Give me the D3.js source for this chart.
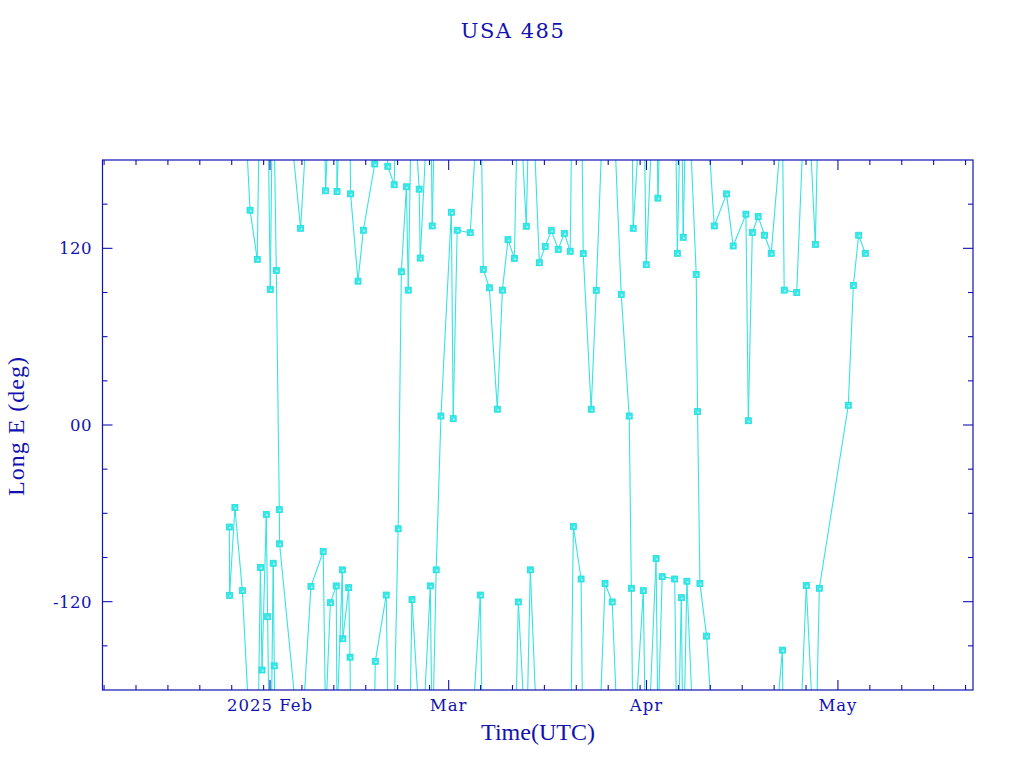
<!DOCTYPE html>
<html><head><meta charset="utf-8">
<script src="https://cdn.jsdelivr.net/npm/d3@7"></script>
<style>html,body{margin:0;padding:0;background:#fff;}svg{display:block;}</style>
</head><body>
<script>
// ---- data ----
const title = "USA 485";
const xLabel = "Time(UTC)";
const yLabel = "Long E (deg)";
const timeDomain = ["2025-01-05T18:00", "2025-05-22T04:00"];
const lonDomain = [-180, 180];
const yTickValues = [-150, -120, -90, -60, -30, 0, 30, 60, 90, 120, 150];
const yMajorTicks = [-120, 0, 120];
const yTickLabels = ["-120", "00", "120"];
const monthLabels = ["Jan", "Feb", "Mar", "Apr", "May"];
const times = [
 "2025-01-25T15:00","2025-01-25T16:00","2025-01-26T12:00","2025-01-27T16:00","2025-01-28T21:00",
 "2025-01-30T00:00","2025-01-30T12:00","2025-01-30T18:00","2025-01-31T10:00","2025-01-31T15:00",
 "2025-02-01T01:00","2025-02-01T12:00","2025-02-01T16:00","2025-02-01T23:40","2025-02-02T11:00",
 "2025-02-02T12:00","2025-02-05T19:00","2025-02-07T10:00","2025-02-09T08:00","2025-02-09T17:00",
 "2025-02-10T11:00","2025-02-11T09:00","2025-02-11T12:00","2025-02-12T08:00","2025-02-12T10:00",
 "2025-02-13T08:00","2025-02-13T13:00","2025-02-13T15:00","2025-02-14T19:00","2025-02-15T15:00",
 "2025-02-17T10:00","2025-02-17T12:00","2025-02-19T05:00","2025-02-19T11:00","2025-02-20T11:00",
 "2025-02-21T02:00","2025-02-21T14:00","2025-02-22T09:00","2025-02-22T16:00","2025-02-23T06:00",
 "2025-02-24T09:00","2025-02-24T13:00","2025-02-26T03:00","2025-02-26T10:00","2025-02-27T01:00",
 "2025-02-27T19:00","2025-03-01T10:00","2025-03-01T17:00","2025-03-02T08:00","2025-03-04T09:00",
 "2025-03-05T23:00","2025-03-06T10:00","2025-03-07T09:00","2025-03-08T15:00","2025-03-09T10:00",
 "2025-03-10T07:00","2025-03-11T07:00","2025-03-11T22:00","2025-03-13T04:00","2025-03-13T19:00",
 "2025-03-15T05:00","2025-03-16T03:00","2025-03-17T02:00","2025-03-18T04:00","2025-03-19T03:00",
 "2025-03-20T01:00","2025-03-20T13:00","2025-03-21T18:00","2025-03-22T02:00","2025-03-23T08:00",
 "2025-03-24T03:00","2025-03-25T12:00","2025-03-26T15:00","2025-03-28T01:00","2025-03-29T07:00",
 "2025-03-29T15:00","2025-03-29T22:00","2025-03-31T12:00","2025-03-31T23:00","2025-04-02T12:00",
 "2025-04-02T19:00","2025-04-03T11:00","2025-04-05T10:00","2025-04-05T20:00","2025-04-06T11:00",
 "2025-04-06T18:00","2025-04-07T08:00","2025-04-08T19:00","2025-04-09T00:00","2025-04-09T09:00",
 "2025-04-10T10:00","2025-04-11T15:00","2025-04-13T13:00","2025-04-14T14:00","2025-04-16T14:00",
 "2025-04-16T23:00","2025-04-17T14:00","2025-04-18T12:00","2025-04-19T12:00","2025-04-20T13:00",
 "2025-04-22T07:00","2025-04-22T14:00","2025-04-24T13:00","2025-04-26T01:00","2025-04-27T11:00",
 "2025-04-28T02:00","2025-05-02T15:00","2025-05-03T10:00","2025-05-04T06:00","2025-05-05T07:00"
];
const longitudes = [
 -69.3,-115.7,-56.1,-112.5,145.9, 112.5,-96.8,-166.4,-60.7,-130.2,
 92.0,-93.9,-163.6,105.0,-57.5, -80.7,133.6,-109.6,-85.9,159.1,
 -120.7,-109.3,158.6,-98.4,-145.2, -110.5,-157.7,157.0,97.7,132.3,
 177.3,-160.5,-115.5,175.7,163.2, -70.5,104.1,161.8,91.6,-118.6,
 160.2,113.4,-109.3,135.2,-98.4, 6.1,144.5,4.3,132.3,130.6,
 -115.5,105.7,93.2,10.7,91.6, 125.9,113.2,-120.2,135.0,-98.4,
 110.2,121.2,132.0,119.3,130.2, 118.0,-68.9,-104.6,116.4,10.7,
 91.5,-107.7,-120.2,88.6,6.1, -110.9,133.6,-112.5,108.9,-90.7,
 154.1,-103.0,-104.6,116.6,-117.3, 127.5,-106.1,102.3,9.1,-107.7,
 -143.4,135.2,157.0,121.6,143.2, 2.9,130.7,141.6,128.9,116.6,
 -152.9,91.6,90.0,-109.1,122.7, -110.9,13.4,94.8,128.9,116.6
];

// ---- chart ----
const W = 1024, H = 768;
const M = {left: 102.5, right: 973, top: 160, bottom: 690};
const axisColor = "#1212b0", lineColor = "#3ae2e2";
const tickFont = "'DejaVu Serif', serif";
const parse = d3.utcParse("%Y-%m-%dT%H:%M");
const data = times.map((t, i) => ({t: parse(t), lon: longitudes[i]}));

const x = d3.scaleUtc().domain(timeDomain.map(parse)).range([M.left, M.right]);
const y = d3.scaleLinear().domain(lonDomain).range([M.bottom, M.top]);

const svg = d3.select("body").append("svg").attr("width", W).attr("height", H)
  .style("font-family", "'Liberation Serif', serif");

svg.append("defs").append("clipPath").attr("id", "clip")
  .append("rect").attr("x", M.left).attr("y", M.top)
  .attr("width", M.right - M.left).attr("height", M.bottom - M.top);

const plot = svg.append("g").attr("clip-path", "url(#clip)");
const line = d3.line().x(d => x(d[0])).y(d => y(d[1]));

// segments, wrapping through +/-180 along the shortest way
const segs = [];
for (let i = 1; i < data.length; i++) {
  const a = data[i - 1], b = data[i];
  let d = b.lon - a.lon;
  d = ((d + 180) % 360 + 360) % 360 - 180;
  for (const k of [-360, 0, 360]) {
    segs.push([[a.t, a.lon + k], [b.t, a.lon + d + k]]);
  }
}
plot.selectAll("path.seg").data(segs).join("path").attr("class", "seg")
  .attr("d", line).attr("fill", "none").attr("stroke", lineColor).attr("stroke-width", 1.1);

plot.selectAll("rect.pt").data(data).join("rect").attr("class", "pt")
  .attr("x", d => x(d.t) - 3).attr("y", d => y(d.lon) - 3)
  .attr("width", 6).attr("height", 6)
  .attr("fill", "#3ae8e8").attr("stroke", "#1fdcdc").attr("stroke-width", 0.8);
plot.selectAll("rect.ptc").data(data).join("rect").attr("class", "ptc")
  .attr("x", d => x(d.t)).attr("y", d => y(d.lon))
  .attr("width", 1.5).attr("height", 1.5).attr("fill", "#c8fafa");

// frame
svg.append("rect").attr("x", M.left).attr("y", M.top)
  .attr("width", M.right - M.left).attr("height", M.bottom - M.top)
  .attr("fill", "none").attr("stroke", axisColor).attr("stroke-width", 1.2);

// x ticks: days 1,6,11,... of each month, major at day 1
const d0 = x.domain()[0], d1 = x.domain()[1];
const xTicks = [];
for (let m = d3.utcMonth.floor(d0); m <= d1; m = d3.utcMonth.offset(m, 1)) {
  const nDays = d3.utcDay.count(m, d3.utcMonth.offset(m, 1));
  for (let day = 1; day <= nDays; day += 5) {
    const t = new Date(Date.UTC(m.getUTCFullYear(), m.getUTCMonth(), day));
    if (t >= d0 && t <= d1) xTicks.push({t, major: day === 1});
  }
}
const tg = svg.append("g").attr("stroke", axisColor).attr("stroke-width", 1.1);
xTicks.forEach(k => {
  const px = x(k.t), len = k.major ? 10 : 5;
  tg.append("line").attr("x1", px).attr("x2", px).attr("y1", M.bottom).attr("y2", M.bottom - len);
  tg.append("line").attr("x1", px).attr("x2", px).attr("y1", M.top).attr("y2", M.top + len);
});
yTickValues.forEach(v => {
  const py = y(v), len = yMajorTicks.includes(v) ? 10 : 5;
  tg.append("line").attr("x1", M.left).attr("x2", M.left + len).attr("y1", py).attr("y2", py);
  tg.append("line").attr("x1", M.right).attr("x2", M.right - len).attr("y1", py).attr("y2", py);
});

// x tick labels
let firstLabel = true;
xTicks.filter(k => k.major).forEach(k => {
  const mon = monthLabels[k.t.getUTCMonth()];
  const txt = firstLabel ? k.t.getUTCFullYear() + " " + mon : mon;
  firstLabel = false;
  svg.append("text").attr("x", x(k.t)).attr("y", 711).attr("text-anchor", "middle")
    .attr("fill", axisColor).style("font-family", tickFont)
    .attr("font-size", 16.5).attr("letter-spacing", 1).text(txt);
});
// y tick labels
yMajorTicks.forEach((v, i) => {
  svg.append("text").attr("x", 92).attr("y", y(v) + 6).attr("text-anchor", "end")
    .attr("fill", axisColor).style("font-family", tickFont)
    .attr("font-size", 16.5).attr("letter-spacing", 0.5).text(yTickLabels[i]);
});

// titles
svg.append("text").attr("x", 513).attr("y", 38).attr("text-anchor", "middle")
  .attr("fill", axisColor).style("font-family", tickFont)
  .attr("font-size", 21).attr("letter-spacing", 1.5).text(title);
svg.append("text").attr("x", 538).attr("y", 740).attr("text-anchor", "middle")
  .attr("fill", axisColor).attr("font-size", 24).text(xLabel);
svg.append("text").attr("transform", "translate(24,426) rotate(-90)").attr("text-anchor", "middle")
  .attr("fill", axisColor).attr("font-size", 24).attr("letter-spacing", 1).text(yLabel);
</script>
</body></html>
